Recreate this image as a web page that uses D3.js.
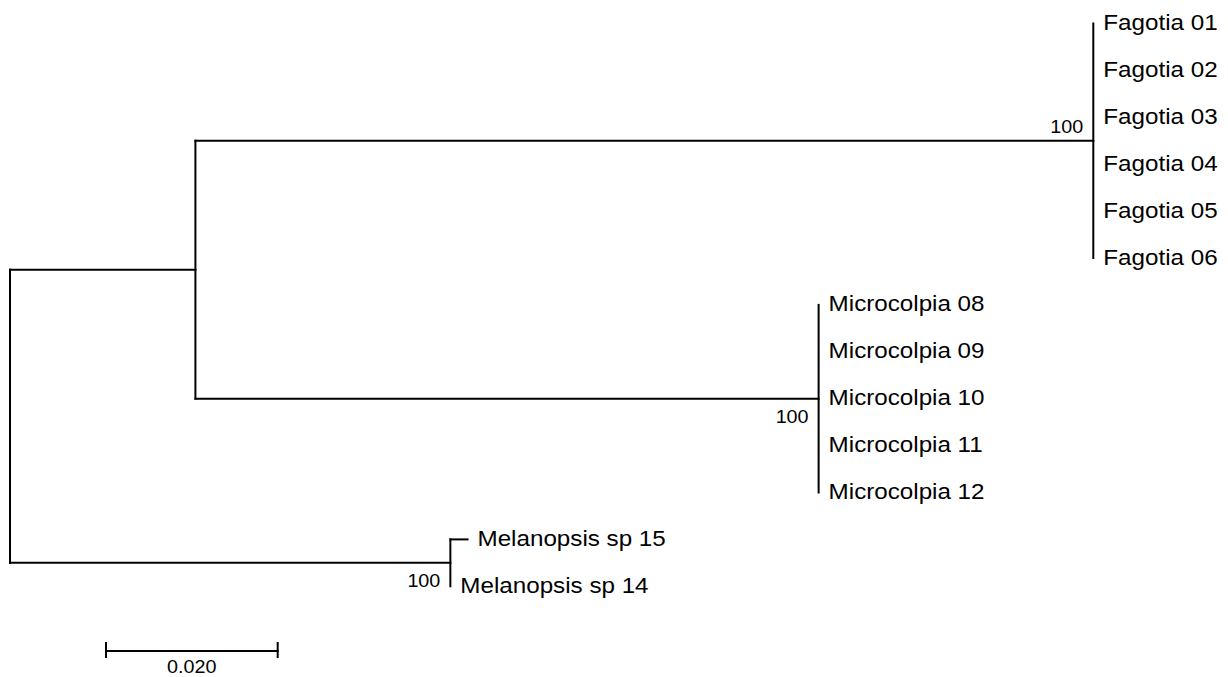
<!DOCTYPE html>
<html>
<head>
<meta charset="utf-8">
<script src="https://cdn.jsdelivr.net/npm/d3@7"></script>
<style>
  html, body { margin: 0; padding: 0; background: #fff; }
  svg { display: block; }
  .branch { fill: none; stroke: #000; stroke-width: 2; stroke-linecap: square; }
  .tip-label { font-family: "Liberation Sans", Arial, sans-serif; font-size: 22px; fill: #000; }
  .support { font-family: "Liberation Sans", Arial, sans-serif; font-size: 17.5px; fill: #000; }
</style>
</head>
<body>
<div id="main"></div>
<script>
!(function () {
  'use strict';
  // - - - - - - - - - -

  // data
  const fagotia = ['Fagotia 01', 'Fagotia 02', 'Fagotia 03', 'Fagotia 04', 'Fagotia 05', 'Fagotia 06'];
  const microcolpia = ['Microcolpia 08', 'Microcolpia 09', 'Microcolpia 10', 'Microcolpia 11', 'Microcolpia 12'];
  const melanopsis = ['Melanopsis sp 15', 'Melanopsis sp 14'];

  const fagotiaTipLengths = [0, 0, 0, 0, 0, 0];
  const microcolpiaTipLengths = [0, 0, 0, 0, 0];
  const melanopsisTipLengths = [0.002, 0];

  const cladeStems = [0.1046, 0.0726, 0.0513]; // Fagotia, Microcolpia, Melanopsis
  const cladeSupport = [100, 100, 100];
  const ingroupStem = 0.0216; // Fagotia + Microcolpia

  const scaleBarValue = 0.020;
  const scaleBarLabel = '0.020';

  // configuration
  let
    svg = undefined,
    root = undefined,
    xScale = undefined,
    yScale = undefined,
    canvas = {
      context: '#main',
      width: 1228,
      height: 677,
      treeLeft: 10,
      treeRight: 1093.3,
      tipTop: 23.5,
      tipBottom: 586.3
    },
    stretch = 1.1; // glyphs in the picture are a bit wider than tall

  // methods
  function leaves(names, lengths) {
    return names.map(function (n, i) { return { name: n, length: lengths[i] }; });
  }

  function buildTree() {
    let data = {
      length: 0,
      children: [
        {
          length: ingroupStem,
          children: [
            { length: cladeStems[0], support: cladeSupport[0], children: leaves(fagotia, fagotiaTipLengths) },
            { length: cladeStems[1], support: cladeSupport[1], children: leaves(microcolpia, microcolpiaTipLengths) }
          ]
        },
        { length: cladeStems[2], support: cladeSupport[2], children: leaves(melanopsis, melanopsisTipLengths) }
      ]
    };
    root = d3.hierarchy(data);
    root.eachBefore(function (d) {
      d.dist = (d.parent ? d.parent.dist : 0) + d.data.length;
    });
  }

  function setCanvas() {
    svg = d3.select(canvas.context)
      .append('svg')
      .attr('width', canvas.width)
      .attr('height', canvas.height);
  }

  function setScales() {
    let tips = root.leaves();
    xScale = d3.scaleLinear()
      .domain([0, d3.max(tips, function (d) { return d.dist; })])
      .range([canvas.treeLeft, canvas.treeRight]);
    yScale = d3.scaleLinear()
      .domain([0, tips.length - 1])
      .range([canvas.tipTop, canvas.tipBottom]);

    tips.forEach(function (d, i) { d.y = yScale(i); });
    root.eachAfter(function (d) {
      if (d.children) {
        d.y = (d.children[0].y + d.children[d.children.length - 1].y) / 2;
      }
      d.x = xScale(d.dist);
    });
  }

  function drawBranches() {
    let g = svg.append('g').attr('class', 'branches');
    // horizontal segments
    g.selectAll('line.h')
      .data(root.descendants().filter(function (d) { return d.parent && d.x > d.parent.x; }))
      .enter()
      .append('line')
      .attr('class', 'branch h')
      .attr('x1', function (d) { return d.parent.x; })
      .attr('x2', function (d) { return d.x; })
      .attr('y1', function (d) { return d.y; })
      .attr('y2', function (d) { return d.y; });
    // vertical connectors
    g.selectAll('line.v')
      .data(root.descendants().filter(function (d) { return d.children; }))
      .enter()
      .append('line')
      .attr('class', 'branch v')
      .attr('x1', function (d) { return d.x; })
      .attr('x2', function (d) { return d.x; })
      .attr('y1', function (d) { return d.children[0].y; })
      .attr('y2', function (d) { return d.children[d.children.length - 1].y; });
  }

  function drawLabels() {
    svg.append('g')
      .selectAll('text')
      .data(root.leaves())
      .enter()
      .append('text')
      .attr('class', 'tip-label')
      .attr('transform', function (d) {
        return 'translate(' + (d.x + 10) + ',' + (d.y + 6.5) + ') scale(' + stretch + ',1)';
      })
      .text(function (d) { return d.data.name; });

    svg.append('g')
      .selectAll('text')
      .data(root.descendants().filter(function (d) { return d.data.support; }))
      .enter()
      .append('text')
      .attr('class', 'support')
      .attr('text-anchor', 'end')
      .attr('transform', function (d) {
        // upper child: above its branch, lower child: below
        let upper = d.parent && d.parent.children[0] === d;
        let dy = upper ? -7.5 : 24;
        return 'translate(' + (d.x - 10) + ',' + (d.y + dy) + ') scale(1.13,1)';
      })
      .text(function (d) { return d.data.support; });
  }

  function drawScaleBar() {
    let x0 = 106,
      y0 = 651,
      len = xScale(scaleBarValue) - xScale(0),
      g = svg.append('g').attr('class', 'scale-bar');
    g.append('line').attr('class', 'branch')
      .attr('x1', x0).attr('x2', x0 + len).attr('y1', y0).attr('y2', y0);
    [x0, x0 + len].forEach(function (x) {
      g.append('line').attr('class', 'branch')
        .attr('x1', x).attr('x2', x).attr('y1', y0 - 8).attr('y2', y0 + 6);
    });
    g.append('text')
      .attr('class', 'support')
      .attr('text-anchor', 'middle')
      .attr('transform', 'translate(' + (x0 + len / 2) + ',' + (y0 + 22) + ') scale(1.13,1)')
      .text(scaleBarLabel);
  }

  // control
  buildTree();
  setCanvas();
  setScales();
  drawBranches();
  drawLabels();
  drawScaleBar();
  // - - - - - - - - - -
}());
</script>
</body>
</html>
